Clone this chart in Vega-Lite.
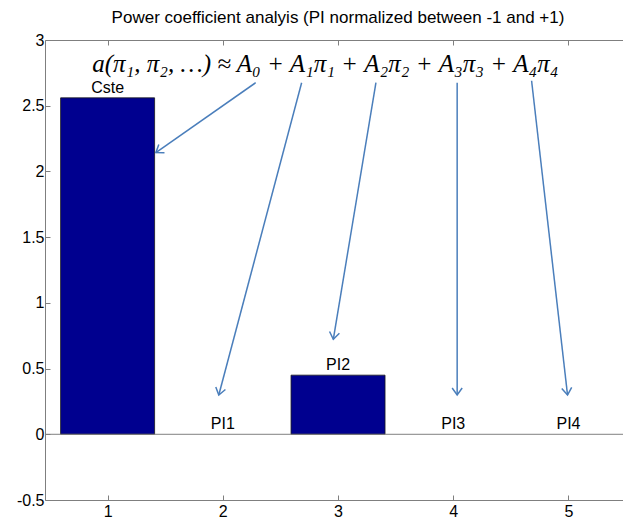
{
  "$schema": "https://vega.github.io/schema/vega-lite/v6.json",
  "autosize": {"type": "none"},
  "width": 578,
  "height": 460,
  "padding": {"left": 45, "top": 40, "right": 0, "bottom": 22},
  "background": "white",
  "config": {
    "view": {"stroke": null},
    "font": "Liberation Sans",
    "axis": {"labelFont": "Liberation Sans", "labelFontSize": 16, "labelColor": "#000000", "domainColor": "#7f7f7f", "tickColor": "#7f7f7f", "grid": false, "title": null}
  },
  "title": {"text": "Power coefficient analyis (PI normalized between -1 and +1)", "font": "Liberation Sans", "fontSize": 17, "fontWeight": "normal", "color": "#000000", "anchor": "middle", "offset": 5, "dx": 4},
  "datasets": {
    "bars": [
      {"pos": 1, "value": 2.56, "label": "Cste"},
      {"pos": 2, "value": 0, "label": "PI1"},
      {"pos": 3, "value": 0.45, "label": "PI2"},
      {"pos": 4, "value": 0, "label": "PI3"},
      {"pos": 5, "value": 0, "label": "PI4"}
    ],
    "arrows": [
      {"x": 2.285, "y": 2.675, "x2": 1.419, "y2": 2.143, "angle": 235.4},
      {"x": 2.684, "y": 2.675, "x2": 1.965, "y2": 0.299, "angle": 195.1},
      {"x": 3.329, "y": 2.675, "x2": 2.959, "y2": 0.723, "angle": 189.6},
      {"x": 4.034, "y": 2.675, "x2": 4.034, "y2": 0.299, "angle": 180},
      {"x": 4.68, "y": 2.69, "x2": 4.992, "y2": 0.299, "angle": 173.3}
    ],
    "formula": [
      {"x": 2.89, "y": 2.76, "text": "a(π₁, π₂, …) ≈ A₀ + A₁π₁ + A₂π₂ + A₃π₃ + A₄π₄"}
    ]
  },
  "layer": [
    {
      "data": {"name": "bars"},
      "transform": [{"filter": "datum.value != 0"}],
      "mark": {"type": "bar", "width": 94, "color": "#00008f", "stroke": "#1a1a1a", "strokeWidth": 0.8},
      "encoding": {
        "x": {"field": "pos", "type": "quantitative", "scale": {"domain": [0.5, 5.43], "nice": false, "zero": false},
              "axis": {"orient": "bottom", "values": [1, 2, 3, 4, 5], "format": "d", "tickSize": -5, "labelPadding": 8, "labelFlush": false}},
        "y": {"field": "value", "type": "quantitative", "scale": {"domain": [-0.5, 3], "nice": false},
              "axis": {"values": [-0.5, 0, 0.5, 1, 1.5, 2, 2.5, 3], "tickSize": -5, "labelPadding": 6, "labelExpr": "'' + datum.value"}}
      }
    },
    {
      "data": {"values": [{"v": 0}]},
      "mark": {"type": "rule", "color": "#808080", "strokeWidth": 1},
      "encoding": {
        "y": {"datum": 0, "type": "quantitative"}
      }
    },
    {
      "data": {"name": "bars"},
      "mark": {"type": "text", "fontSize": 16, "font": "Liberation Sans", "color": "#000000", "baseline": "alphabetic", "dy": -5},
      "encoding": {
        "x": {"field": "pos", "type": "quantitative", "axis": {"orient": "top", "values": [1, 2, 3, 4, 5], "labels": false, "tickSize": -5, "domainColor": "#7f7f7f"}},
        "y": {"field": "value", "type": "quantitative"},
        "text": {"field": "label"}
      }
    },
    {
      "data": {"name": "arrows"},
      "mark": {"type": "rule", "color": "#4a7ebb", "strokeWidth": 1.5},
      "encoding": {
        "x": {"field": "x", "type": "quantitative", "axis": null},
        "y": {"field": "y", "type": "quantitative"},
        "x2": {"field": "x2"},
        "y2": {"field": "y2"}
      }
    },
    {
      "data": {"name": "arrows"},
      "mark": {"type": "point", "shape": "M -1 1.4 L 0 0 L 1 1.4", "filled": false, "color": "#4a7ebb", "strokeWidth": 1.5, "size": 100, "opacity": 1},
      "encoding": {
        "x": {"field": "x2", "type": "quantitative", "axis": null},
        "y": {"field": "y2", "type": "quantitative"},
        "angle": {"field": "angle", "type": "quantitative", "scale": null}
      }
    },
    {
      "data": {"name": "formula"},
      "mark": {"type": "text", "font": "Liberation Serif", "fontStyle": "italic", "fontSize": 25, "color": "#000000", "align": "center", "baseline": "alphabetic"},
      "encoding": {
        "x": {"field": "x", "type": "quantitative", "axis": null},
        "y": {"field": "y", "type": "quantitative"},
        "text": {"field": "text"}
      }
    }
  ],
  "resolve": {"axis": {"x": "independent"}}
}
